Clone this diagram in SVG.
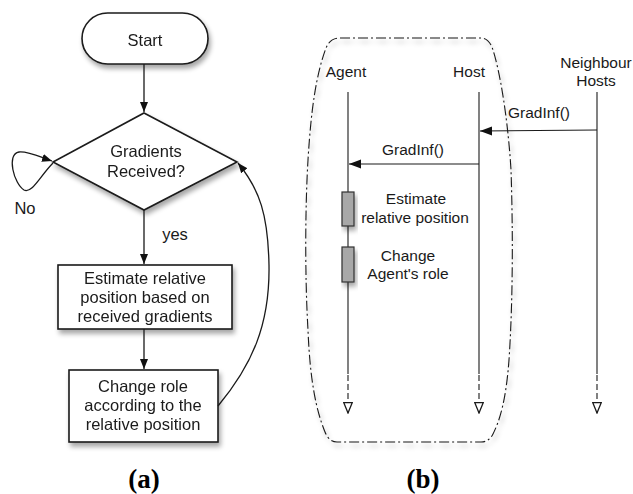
<svg xmlns="http://www.w3.org/2000/svg" width="633" height="494" viewBox="0 0 633 494">
<style>
text{font-family:"Liberation Sans",Arial,sans-serif;fill:#1a1a1a;text-anchor:middle}
.a{font-size:16.5px}
.b{font-size:15.5px}
.cap{font-family:"Liberation Serif","Times New Roman",serif;font-weight:bold;font-size:27px;fill:#000}
.shape{fill:#fff;stroke:#1a1a1a;stroke-width:1.6}
.line{fill:none;stroke:#1a1a1a;stroke-width:1.3}
.life{fill:none;stroke:#1a1a1a;stroke-width:1.1}
.dash{fill:none;stroke:#1a1a1a;stroke-width:1.1;stroke-dasharray:6 3}
.act{fill:#a8a8a8;stroke:#333;stroke-width:1.2}
</style>
<defs>
<filter id="sh" x="-20%" y="-20%" width="150%" height="150%">
<feGaussianBlur in="SourceAlpha" stdDeviation="2.5"/>
<feOffset dx="2" dy="4" result="b"/>
<feComponentTransfer><feFuncA type="linear" slope="0.35"/></feComponentTransfer>
<feMerge><feMergeNode/><feMergeNode in="SourceGraphic"/></feMerge>
</filter>
<marker id="ah" viewBox="0 0 10 10" refX="10" refY="5" markerWidth="10" markerHeight="10" markerUnits="userSpaceOnUse" orient="auto">
<path d="M0,1 L10,5 L0,9 Z" fill="#111"/>
</marker>
<marker id="ah2" viewBox="0 0 12 10" refX="12" refY="5" markerWidth="12" markerHeight="10" markerUnits="userSpaceOnUse" orient="auto">
<path d="M0,0.5 L12,5 L0,9.5 Z" fill="#111"/>
</marker>
<marker id="open" viewBox="0 0 12 10" refX="11" refY="5" markerWidth="12" markerHeight="10" markerUnits="userSpaceOnUse" orient="auto">
<path d="M0.7,0.8 L11,5 L0.7,9.2 Z" fill="#fff" stroke="#1a1a1a" stroke-width="1.3"/>
</marker>
</defs>
<rect width="633" height="494" fill="#fff"/>

<!-- (a) flowchart -->
<g id="start" filter="url(#sh)">
<rect class="shape" x="82" y="13" width="126" height="51" rx="25.5" ry="25.5"/>
<text class="a" x="145" y="46">Start</text>
</g>
<g id="decision" filter="url(#sh)">
<polygon class="shape" points="144,113 237,162 144,210 53,162"/>
<text class="a" x="146" y="157">Gradients</text>
<text class="a" x="146" y="177">Received?</text>
</g>
<g id="estimate" filter="url(#sh)">
<rect class="shape" x="58" y="265" width="174" height="64"/>
<text class="a" x="145" y="284">Estimate relative</text>
<text class="a" x="145" y="303">position based on</text>
<text class="a" x="145" y="322">received gradients</text>
</g>
<g id="change" filter="url(#sh)">
<rect class="shape" x="69" y="370" width="149" height="72"/>
<text class="a" x="143" y="392">Change role</text>
<text class="a" x="143" y="411">according to the</text>
<text class="a" x="143" y="430">relative position</text>
</g>
<g id="connectors-a">
<line class="line" x1="144" y1="64" x2="144" y2="112" marker-end="url(#ah)"/>
<line class="line" x1="144" y1="210" x2="144" y2="264" marker-end="url(#ah)"/>
<line class="line" x1="144" y1="329" x2="144" y2="369" marker-end="url(#ah)"/>
<path class="line" d="M218,406 C252,365 270,325 269,265 C268,215 260,190 238,163" marker-end="url(#ah)"/>
<path class="line" d="M53,163 C40,176 32,194 24,190 C14,184 6,154 19,152 C28,151 40,157 52,161" marker-end="url(#ah)"/>
<text class="a" x="25" y="214">No</text>
<text class="a" x="175" y="240">yes</text>
</g>
<text class="cap" x="144" y="488">(a)</text>

<!-- (b) sequence diagram -->
<g id="boundary" filter="url(#sh)">
<path d="M340,38 L481,38 Q488,38 492,47 C500,70 508,120 511,170 C513,230 513,300 509,360 C506,400 500,420 493,434 Q489,442 481,442 L337,442 Q329,442 325,432 C316,410 310,380 308,330 C305,280 305,210 308,160 C311,110 316,75 326,48 Q330,38 340,38 Z" fill="none" stroke="#1a1a1a" stroke-width="1.1" stroke-dasharray="10 3 2 3"/>
</g>
<g id="agent">
<text class="b" x="346" y="77">Agent</text>
<line class="life" x1="348" y1="92" x2="348" y2="374"/>
<line class="dash" x1="348" y1="375" x2="348" y2="413" marker-end="url(#open)"/>
</g>
<g id="host">
<text class="b" x="469" y="77">Host</text>
<line class="life" x1="479" y1="92" x2="479" y2="374"/>
<line class="dash" x1="479" y1="375" x2="479" y2="413" marker-end="url(#open)"/>
</g>
<g id="neighbour">
<text class="b" x="596" y="68">Neighbour</text>
<text class="b" x="596" y="86">Hosts</text>
<line class="life" x1="597" y1="92" x2="597" y2="374"/>
<line class="dash" x1="597" y1="375" x2="597" y2="413" marker-end="url(#open)"/>
</g>
<g id="act1" filter="url(#sh)">
<rect class="act" x="342" y="192" width="12" height="34"/>
</g>
<g id="act2" filter="url(#sh)">
<rect class="act" x="342" y="247" width="12" height="35"/>
</g>
<g id="messages">
<line class="life" x1="597" y1="130" x2="480" y2="131" marker-end="url(#ah2)"/>
<text class="b" x="539" y="118">GradInf()</text>
<line class="life" x1="479" y1="164" x2="349" y2="164" marker-end="url(#ah2)"/>
<text class="b" x="413" y="155">GradInf()</text>
<text class="b" x="416" y="204">Estimate</text>
<text class="b" x="415" y="223">relative position</text>
<text class="b" x="408" y="261">Change</text>
<text class="b" x="408" y="279">Agent's role</text>
</g>
<text class="cap" x="423" y="488">(b)</text>
</svg>
